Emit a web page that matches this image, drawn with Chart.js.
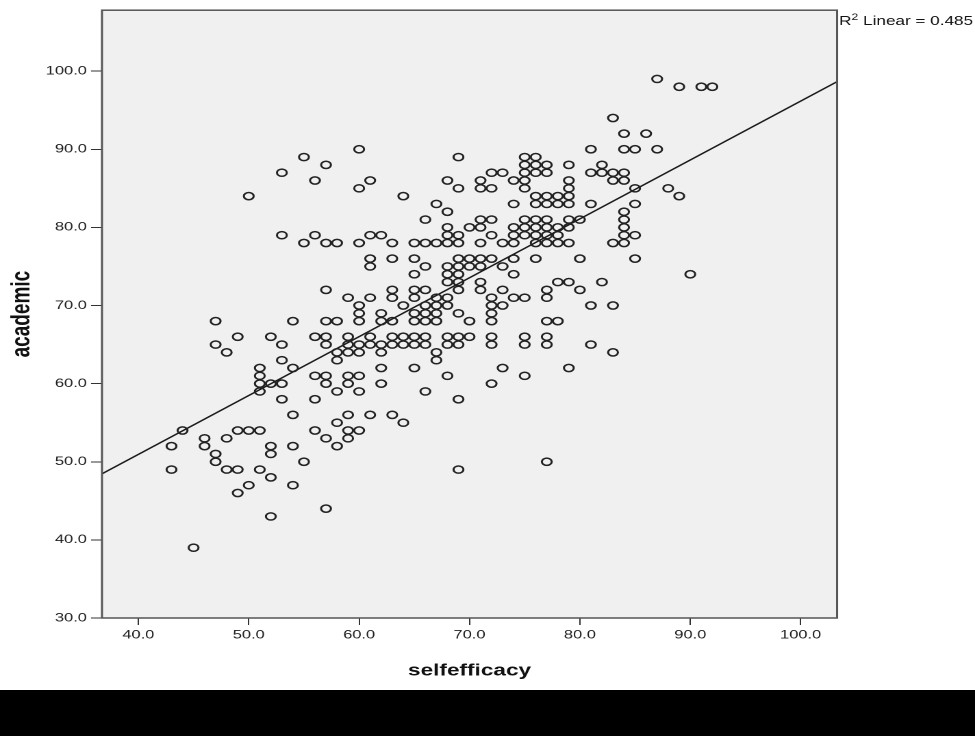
<!DOCTYPE html>
<html>
<head>
<meta charset="utf-8">
<script src="https://cdn.jsdelivr.net/npm/chart.js@4.4.1/dist/chart.umd.min.js"></script>
<style>
  html, body { margin: 0; padding: 0; background: #fff; overflow: hidden; }
  #chart { display: block; transform-origin: 0 0; }
</style>
</head>
<body>
<canvas id="chart"></canvas>
<script>
// selfefficacy values (x) and the academic scores seen in each column
const selfefficacy = [43, 44, 45, 46, 47, 48, 49, 50, 51, 52, 53, 54, 55, 56, 57, 58, 59, 60,
  61, 62, 63, 64, 65, 66, 67, 68, 69, 70, 71, 72, 73, 74, 75, 76, 77, 78, 79, 80,
  81, 82, 83, 84, 85, 86, 87, 88, 89, 90, 91, 92];
const academic = [
  [52, 49], [54], [39], [53, 52], [68, 65, 51, 50], [64, 53, 49], [66, 54, 49, 46],
  [84, 54, 47], [62, 61, 60, 59, 54, 49], [66, 60, 52, 51, 48, 43], [87, 79, 65, 63, 60, 58],
  [68, 62, 56, 52, 47], [89, 78, 50], [86, 79, 66, 61, 58, 54],
  [88, 78, 72, 68, 66, 65, 61, 60, 53, 44], [78, 68, 64, 63, 59, 55, 52],
  [71, 66, 65, 64, 61, 60, 56, 54, 53], [90, 85, 78, 70, 69, 68, 65, 64, 61, 59, 54],
  [86, 79, 76, 75, 71, 66, 65, 56], [79, 69, 68, 65, 64, 62, 60],
  [78, 76, 72, 71, 68, 66, 65, 56], [84, 70, 66, 65, 55],
  [78, 76, 74, 72, 71, 69, 68, 66, 65, 62], [81, 78, 75, 72, 70, 69, 68, 66, 65, 59],
  [83, 78, 71, 70, 69, 68, 64, 63], [86, 82, 80, 79, 78, 75, 74, 73, 71, 70, 66, 65, 61],
  [89, 85, 79, 78, 76, 75, 74, 73, 72, 69, 66, 65, 58, 49], [80, 76, 75, 68, 66],
  [86, 85, 81, 80, 78, 76, 75, 73, 72], [87, 85, 81, 79, 76, 71, 70, 69, 68, 66, 65, 60],
  [87, 78, 75, 72, 70, 62], [86, 83, 80, 79, 78, 76, 74, 71],
  [89, 88, 87, 86, 85, 81, 80, 79, 71, 66, 65, 61], [89, 88, 87, 84, 83, 81, 80, 79, 78, 76],
  [88, 87, 84, 83, 81, 80, 79, 78, 72, 71, 68, 66, 65, 50], [84, 83, 80, 79, 78, 73, 68],
  [88, 86, 85, 84, 83, 81, 80, 78, 73, 62], [81, 76, 72], [90, 87, 83, 70, 65],
  [88, 87, 73], [94, 87, 86, 78, 70, 64], [92, 90, 87, 86, 82, 81, 80, 79, 78],
  [90, 85, 83, 79, 76], [92], [99, 90], [85], [98, 84], [74], [98], [98]
];

// fit line as read at the two plot edges
const fitX = [36.7, 103.3];
const fitY = [48.45, 98.65];
const r2Text = '0.485';

const xTicks = [40, 50, 60, 70, 80, 90, 100];
const yTicks = [30, 40, 50, 60, 70, 80, 90, 100];

// the reference is stretched sideways, so draw narrow and stretch the canvas
const S = 1.37;
const W = Math.round(975 / S);
const H = 736;
const FONT = "'Liberation Sans', Arial, sans-serif";

const canvas = document.getElementById('chart');
canvas.width = W; canvas.height = H;
canvas.style.width = W + 'px'; canvas.style.height = H + 'px';
canvas.style.transform = 'scaleX(' + (975 / W) + ')';

const points = [];
selfefficacy.forEach((x, i) => academic[i].forEach(y => points.push({x, y})));

const frame = {
  id: 'frame',
  beforeDraw(chart) {
    const {ctx, chartArea: a} = chart;
    ctx.save();
    ctx.fillStyle = '#fff';
    ctx.fillRect(0, 0, chart.width, chart.height);
    ctx.fillStyle = '#000';
    ctx.fillRect(0, 690, chart.width, chart.height - 690);
    ctx.fillStyle = '#f0f0f0';
    ctx.fillRect(a.left, a.top, a.right - a.left, a.bottom - a.top);
    ctx.restore();
  },
  afterDraw(chart) {
    const {ctx, chartArea: a} = chart;
    ctx.save();
    ctx.strokeStyle = '#555';
    ctx.lineWidth = 1.5;
    ctx.strokeRect(a.left, a.top, a.right - a.left, a.bottom - a.top);
    // R² label
    ctx.fillStyle = '#111';
    ctx.textBaseline = 'alphabetic';
    let x = a.right + 1.5;
    ctx.font = '12.5px ' + FONT;
    ctx.fillText('R', x, 25);
    x += ctx.measureText('R').width;
    ctx.font = '9px ' + FONT;
    ctx.fillText('2', x, 20);
    x += ctx.measureText('2').width;
    ctx.font = '12.5px ' + FONT;
    ctx.fillText(' Linear = ' + r2Text, x, 25);
    ctx.restore();
  }
};

new Chart(canvas, {
  type: 'scatter',
  data: {
    datasets: [{
      data: points,
      pointStyle: 'circle',
      pointRadius: 3.6,
      pointBorderWidth: 1.5,
      borderColor: '#222',
      backgroundColor: 'rgba(0,0,0,0)'
    }, {
      type: 'line',
      data: fitX.map((x, i) => ({x, y: fitY[i]})),
      borderColor: '#1a1a1a',
      borderWidth: 1.4,
      pointRadius: 0,
      fill: false
    }]
  },
  plugins: [frame],
  options: {
    responsive: false,
    animation: false,
    devicePixelRatio: 2,
    layout: { padding: { top: 8, right: (975 - 837) / S, left: 0, bottom: 0 } },
    plugins: { legend: { display: false }, tooltip: { enabled: false } },
    scales: {
      x: {
        type: 'linear', min: 36.7, max: 103.3,
        afterBuildTicks: s => { s.ticks = xTicks.map(v => ({value: v})); },
        afterFit: s => { s.height = H - 618; },
        grid: { drawOnChartArea: false, tickLength: 7, color: '#333' },
        border: { display: false },
        ticks: { callback: v => v.toFixed(1), color: '#222', padding: 3,
                 font: { family: FONT, size: 12 }, maxRotation: 0, autoSkip: false },
        title: { display: true, text: 'selfefficacy', color: '#111',
                 font: { family: FONT, size: 16.5, weight: 'bold' },
                 padding: { top: 0, bottom: 55 } }
      },
      y: {
        type: 'linear', min: 30, max: 107.8,
        afterBuildTicks: s => { s.ticks = yTicks.map(v => ({value: v})); },
        afterFit: s => { s.width = 102 / S; },
        grid: { drawOnChartArea: false, tickLength: 8, color: '#333' },
        border: { display: false },
        ticks: { callback: v => v.toFixed(1), color: '#222', padding: 3,
                 font: { family: FONT, size: 12 }, autoSkip: false },
        title: { display: true, text: 'academic', color: '#111',
                 font: { family: FONT, size: 19, weight: 'bold' },
                 padding: { top: 5, bottom: 0 } }
      }
    }
  }
});
</script>
</body>
</html>
